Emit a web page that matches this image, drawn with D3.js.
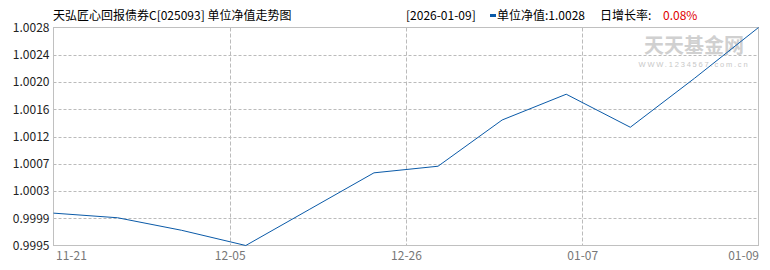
<!DOCTYPE html>
<html>
<head>
<meta charset="utf-8">
<script src="https://cdn.jsdelivr.net/npm/d3@7"></script>
<style>
  body { margin: 0; background: #fff; }
  svg text { font-family: "Noto Sans CJK SC", "Noto Sans", sans-serif; }
</style>
</head>
<body>
<svg id="canvas"></svg>
<script>
// values
const navValues = [0.99999, 0.99992, 0.99973, 0.9995, 1.00005, 1.0006, 1.0007, 1.0014, 1.00179, 1.00129, 1.00203, 1.0028];
const xTickLabels = ["11-21", "12-05", "12-26", "01-07", "01-09"];
const yTickLabels = ["0.9995", "0.9999", "1.0003", "1.0007", "1.0012", "1.0016", "1.0020", "1.0024", "1.0028"];
const yMin = 0.9995, yMax = 1.0028;

const fundTitle = "天弘匠心回报债券C[025093] 单位净值走势图";
const lastDate = "[2026-01-09]";
const lastNav = "1.0028";
const lastGrowth = "0.08%";

const width = 770;
const height = 270;
const plotLeft = 53.5, plotRight = 758.5, plotTop = 27.5, plotBottom = 245.5;

const svg = d3.select("#canvas")
    .attr("width", width)
    .attr("height", height);

const x = d3.scaleLinear()
    .domain([0, navValues.length - 1])
    .range([plotLeft, plotRight]);

const xLabel = d3.scalePoint()
    .domain(xTickLabels)
    .range([plotLeft, plotRight]);

const y = d3.scaleLinear()
    .domain([yMin, yMax])
    .range([plotBottom, plotTop]);

const yTicks = d3.range(yTickLabels.length).map(i => yMin + i * (yMax - yMin) / (yTickLabels.length - 1));

// horizontal grid
svg.append("g")
    .selectAll("line")
    .data(yTicks.slice(1, -1))
    .enter()
    .append("line")
    .attr("x1", plotLeft)
    .attr("x2", plotRight)
    .attr("y1", d => Math.round(y(d)) + 0.5)
    .attr("y2", d => Math.round(y(d)) + 0.5)
    .attr("stroke", "#bbb")
    .attr("stroke-dasharray", "3,2");

// vertical grid
svg.append("g")
    .selectAll("line")
    .data(xTickLabels.slice(1, -1))
    .enter()
    .append("line")
    .attr("x1", d => Math.round(xLabel(d)) + 0.5)
    .attr("x2", d => Math.round(xLabel(d)) + 0.5)
    .attr("y1", plotTop)
    .attr("y2", plotBottom)
    .attr("stroke", "#bbb")
    .attr("stroke-dasharray", "4,2");

// frame
svg.append("rect")
    .attr("x", plotLeft)
    .attr("y", plotTop)
    .attr("width", plotRight - plotLeft)
    .attr("height", plotBottom - plotTop)
    .attr("fill", "none")
    .attr("stroke", "#c0c0c0");

// watermark
svg.append("text")
    .attr("x", 694)
    .attr("y", 53)
    .attr("text-anchor", "middle")
    .attr("font-size", 20)
    .attr("font-weight", "bold")
    .attr("fill", "#d0d0d0")
    .text("天天基金网");
svg.append("text")
    .attr("x", 694)
    .attr("y", 67)
    .attr("text-anchor", "middle")
    .attr("font-size", 7.5)
    .attr("letter-spacing", 1.8)
    .attr("fill", "#c8c8c8")
    .style("font-family", "\"Liberation Sans\", sans-serif")
    .text("WWW.1234567.com.cn");

// y axis labels
const yAxis = d3.axisLeft(y)
    .tickValues(yTicks)
    .tickSize(0)
    .tickPadding(4)
    .tickFormat((d, i) => yTickLabels[i]);

const gy = svg.append("g")
    .attr("transform", `translate(${plotLeft},0)`)
    .call(yAxis);
gy.select(".domain").remove();
gy.selectAll("text")
    .attr("font-size", 12)
    .attr("fill", "#222")
    .style("font-family", "\"Noto Sans CJK SC\", sans-serif");

// x axis labels
const xAxis = d3.axisBottom(xLabel)
    .tickSize(0)
    .tickPadding(6);

const gx = svg.append("g")
    .attr("transform", `translate(0,${plotBottom})`)
    .call(xAxis);
gx.select(".domain").remove();
gx.selectAll("text")
    .attr("font-size", 12)
    .attr("fill", "#777")
    .style("font-family", "\"Noto Sans CJK SC\", sans-serif")
    .attr("dx", (d, i) => i === 0 ? 2 : 0)
    .attr("text-anchor", (d, i) => i === 0 ? "start" : i === xTickLabels.length - 1 ? "end" : "middle");

// nav line
const line = d3.line()
    .x((d, i) => x(i))
    .y(d => y(d));

svg.append("path")
    .datum(navValues)
    .attr("d", line)
    .attr("fill", "none")
    .attr("stroke", "#0a5aa8")
    .attr("stroke-width", 1);

// title and header
svg.append("text")
    .attr("x", 53)
    .attr("y", 20)
    .attr("font-size", 12)
    .attr("fill", "#000")
    .text(fundTitle);

svg.append("text")
    .attr("x", 406)
    .attr("y", 20)
    .attr("font-size", 12)
    .attr("fill", "#000")
    .text(lastDate);

svg.append("rect")
    .attr("x", 490)
    .attr("y", 14)
    .attr("width", 6)
    .attr("height", 3)
    .attr("fill", "#0a5aa8");

svg.append("text")
    .attr("x", 497)
    .attr("y", 20)
    .attr("font-size", 12)
    .attr("fill", "#000")
    .text("单位净值:" + lastNav);

svg.append("text")
    .attr("x", 600)
    .attr("y", 20)
    .attr("font-size", 12)
    .attr("fill", "#000")
    .text("日增长率:");

svg.append("text")
    .attr("x", 663)
    .attr("y", 20)
    .attr("font-size", 12)
    .attr("fill", "#e00000")
    .text(lastGrowth);
</script>
</body>
</html>
